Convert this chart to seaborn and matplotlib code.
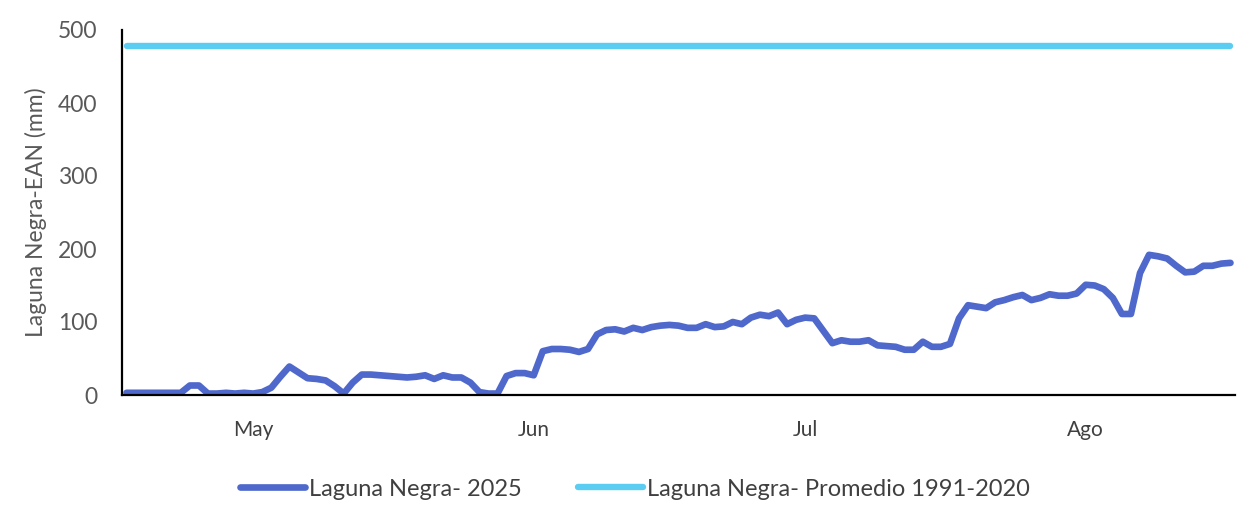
import numpy as np
import pandas as pd
import matplotlib
matplotlib.use("Agg")
import matplotlib.pyplot as plt
import seaborn as sns

# ---- data (daily, 1 May - 31 Aug 2025) ----
dates = pd.date_range("2025-05-01", "2025-08-31", freq="D")
serie_2025 = [
    3, 3, 3, 3, 3, 3, 3, 13, 13, 2,
    2, 3, 2, 3, 2, 4, 10, 25, 39, 31,
    23, 22, 20, 12, 2, 17, 28, 28, 27, 26,
    25, 24, 25, 27, 22, 27, 24, 24, 17, 4,
    2, 2, 26, 30, 30, 27, 60, 63, 63, 62,
    59, 63, 83, 89, 90, 87, 92, 89, 93, 95,
    96, 95, 92, 92, 97, 93, 94, 100, 97, 106,
    110, 108, 113, 97, 103, 106, 105, 88, 71, 75,
    73, 73, 75, 68, 67, 66, 62, 62, 73, 66,
    66, 70, 105, 123, 121, 119, 127, 130, 134, 137,
    130, 133, 138, 136, 136, 139, 151, 150, 145, 133,
    111, 111, 167, 192, 190, 187, 177, 168, 169, 177,
    177, 180, 181,
]
promedio_value = 478
month_labels = ["May", "Jun", "Jul", "Ago"]
month_label_days = ["2025-05-15", "2025-06-15", "2025-07-15", "2025-08-15"]
y_ticks = [0, 100, 200, 300, 400, 500]

name_2025 = "Laguna Negra- 2025"
name_prom = "Laguna Negra- Promedio 1991-2020"

idx = np.arange(len(dates))
df = pd.DataFrame({"i": idx, "v": serie_2025})
df_prom = pd.DataFrame({"i": idx, "v": [promedio_value] * len(dates)})

sns.set_style("white")
plt.rcParams["font.family"] = ["Lato", "DejaVu Sans"]

fig = plt.figure(figsize=(12.52, 5.32), dpi=100)
ax = fig.add_axes([122 / 1252, 1 - 395 / 532, (1235 - 122) / 1252, (395 - 30) / 532])

c_dark = "#4F68CC"
c_light = "#5CCDF2"

sns.lineplot(data=df, x="i", y="v", ax=ax, color=c_dark, linewidth=4.8,
             solid_capstyle="round", solid_joinstyle="round", label=name_2025)
sns.lineplot(data=df_prom, x="i", y="v", ax=ax, color=c_light, linewidth=4.6,
             solid_capstyle="round", label=name_prom)

ax.set_xlim(-0.5, len(dates) - 0.5)
ax.set_ylim(0, 500)

# major ticks at 30-day boundaries, labels at mid-month
ax.set_xticks([-0.5 + 30 * k for k in range(5)])
ax.set_xticklabels([])
label_pos = [int((pd.Timestamp(d) - dates[0]).days) for d in month_label_days]
ax.set_xticks(label_pos, minor=True)
ax.set_xticklabels(month_labels, minor=True)
ax.tick_params(axis="x", which="minor", length=0, pad=18, labelsize=15, colors="#404040")
ax.tick_params(axis="x", which="major", direction="inout", length=10, width=1.5, color="black")

ax.set_yticks(y_ticks)
ax.tick_params(axis="y", direction="inout", length=11, width=1.5, color="black",
               labelsize=16.5, labelcolor="#595959", pad=12)

ax.set_xlabel("")
ax.set_ylabel("Laguna Negra-EAN (mm)", fontsize=16.5, color="#595959", labelpad=8)

for s in ["top", "right"]:
    ax.spines[s].set_visible(False)
for s in ["left", "bottom"]:
    ax.spines[s].set_color("black")
    ax.spines[s].set_linewidth(1.6)

ax.get_legend().remove()
handles, labels = ax.get_legend_handles_labels()
leg = fig.legend(handles, labels, loc="center", bbox_to_anchor=(635 / 1252, 1 - 489 / 532),
                 ncol=2, frameon=False, fontsize=17, handlelength=2.75,
                 handletextpad=0.15, columnspacing=2.4)
for t in leg.get_texts():
    t.set_color("#404040")

fig.savefig("out.png", dpi=100)
